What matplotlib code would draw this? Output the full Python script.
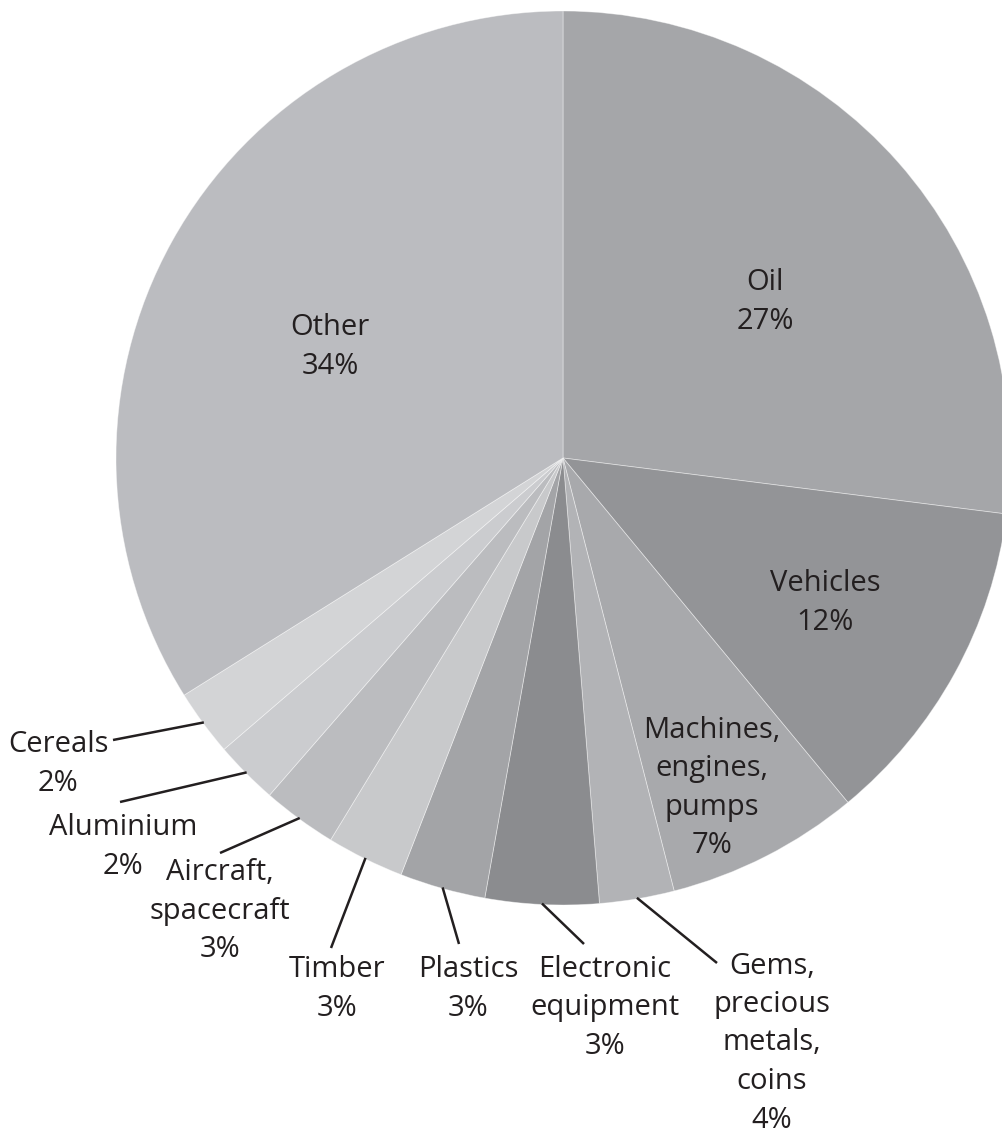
import numpy as np
import matplotlib
matplotlib.use("Agg")
import matplotlib.pyplot as plt

W, H = 1002, 1133

# Export shares (slice sizes, clockwise from the top)
categories = ["Oil", "Vehicles", "Machines,\nengines,\npumps", "Gems,\nprecious\nmetals,\ncoins",
              "Electronic\nequipment", "Plastics", "Timber", "Aircraft,\nspacecraft",
              "Aluminium", "Cereals", "Other"]
values = [27.0, 12.0, 7.0, 2.7, 4.1, 3.1, 2.8, 2.7, 2.3, 2.4, 33.9]
pct_labels = ["27%", "12%", "7%", "4%", "3%", "3%", "3%", "3%", "2%", "2%", "34%"]

colors = ["#a5a6a9", "#939497", "#a8a9ac", "#b2b3b6", "#8b8c8f", "#a3a4a7",
          "#c8c9cb", "#bbbcbf", "#cbcccf", "#d3d4d6", "#bbbcc0"]

# label layout in image pixels (x, y from top): block centre, leader end (None = inside)
label_pos = [(765, 302), (825, 603), (712, 788), (772, 1043), (605, 1008), (468, 989),
             (337, 989), (220, 911), (123, 847), (58, 764), (330, 347)]
leader_end = [None, None, None, (717, 963), (584, 944), (459, 944), (331, 948),
              (220, 853), (120, 802), (113, 740), None]
line_pitch = 38.5

cx, cy, R = 563, H - 458, 447

plt.rcParams['font.family'] = ['Open Sans', 'DejaVu Sans']
text_color = "#231f20"

fig = plt.figure(figsize=(W / 100, H / 100), dpi=100)
ax = fig.add_axes([0, 0, 1, 1])

wedges, _ = ax.pie(values, colors=colors, startangle=90, counterclock=False,
                   center=(cx, cy), radius=R,
                   wedgeprops=dict(linewidth=0.6, edgecolor=(1, 1, 1, 0.45)))

for i, w in enumerate(wedges):
    lines = (categories[i] + "\n" + pct_labels[i]).split("\n")
    lx, ly = label_pos[i]
    top = ly - (len(lines) - 1) / 2 * line_pitch
    for k, s in enumerate(lines):
        ax.text(lx, H - (top + k * line_pitch), s, ha='center', va='center',
                fontsize=21, color=text_color)
    if leader_end[i] is not None:
        mid = np.radians((w.theta1 + w.theta2) / 2)
        x0 = cx + (R - 1) * np.cos(mid)
        y0 = cy + (R - 1) * np.sin(mid)
        ex, ey = leader_end[i]
        ax.plot([x0, ex], [y0, H - ey], color=text_color, lw=1.8,
                solid_capstyle='butt', zorder=3)

ax.set_xlim(0, W)
ax.set_ylim(0, H)
ax.set_aspect('auto')
ax.axis('off')

fig.savefig("out.png", dpi=100)
